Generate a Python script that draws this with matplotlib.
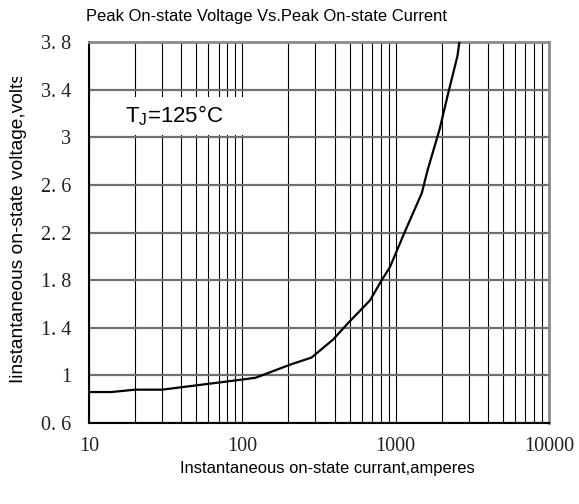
import matplotlib
matplotlib.use("Agg")
import matplotlib.pyplot as plt
from matplotlib.patches import Rectangle
from matplotlib.ticker import NullFormatter
from matplotlib.transforms import Bbox

# curve
current = [10, 14, 20, 30, 100, 122, 205, 283, 390, 490, 680, 811, 918,
           1151, 1480, 1620, 1928, 2230, 2527, 2650]
voltage = [0.86, 0.86, 0.88, 0.88, 0.965, 0.98, 1.09, 1.15, 1.30, 1.44, 1.63,
           1.80, 1.91, 2.21, 2.53, 2.73, 3.06, 3.40, 3.68, 3.87]

y_ticks = [0.6, 1.0, 1.4, 1.8, 2.2, 2.6, 3.0, 3.4, 3.8]
y_labels = ["0. 6", "1", "1. 4", "1. 8", "2. 2", "2. 6", "3", "3. 4", "3. 8"]
x_ticks = [10, 100, 1000, 10000]
x_labels = ["10", "100", "1000", "10000"]

SANS = ["Liberation Sans", "DejaVu Sans"]
SERIF = ["Liberation Serif", "DejaVu Serif"]

plt.rcParams["mathtext.fontset"] = "custom"
plt.rcParams["mathtext.rm"] = "Liberation Sans"
plt.rcParams["mathtext.default"] = "regular"

W, H = 579, 504
fig = plt.figure(figsize=(W / 100, H / 100), dpi=100)
ax = fig.add_axes([89 / W, 1 - 423 / H, 460 / W, 381 / H])

ax.plot(current, voltage, color="black", lw=1.6, zorder=3, solid_joinstyle="round")

ax.set_xscale("log")
ax.set_xlim(10, 10000)
ax.set_ylim(0.6, 3.8)

ax.set_xticks(x_ticks, x_labels)
ax.xaxis.set_minor_formatter(NullFormatter())
ax.set_yticks(y_ticks, y_labels)
ax.tick_params(which="both", length=0)
ax.tick_params(axis="x", pad=10)
ax.tick_params(axis="y", pad=13)
for lab in ax.get_xticklabels() + ax.get_yticklabels():
    lab.set_fontfamily(SERIF)
    lab.set_fontsize(14.5)
    lab.set_color("#222222")

ax.set_axisbelow(True)
ax.xaxis.grid(True, which="both", color="black", lw=0.8)
ax.yaxis.grid(True, which="major", color="#707070", lw=1.6)

for side in ("top", "right"):
    ax.spines[side].set_color("#8a8a8a")
    ax.spines[side].set_linewidth(2)
for side in ("left", "bottom"):
    ax.spines[side].set_color("black")
    ax.spines[side].set_linewidth(1.5)

# white label box for the junction temperature
ax.add_patch(Rectangle((0, 0.756), 0.35, 0.1, transform=ax.transAxes,
                       facecolor="white", edgecolor="none", zorder=2))
ax.text((174.5 - 89) / 460, (423 - 122) / 381, "$\\mathregular{T_J}$=125°C",
        transform=ax.transAxes, ha="center", va="baseline",
        fontfamily=SANS, fontsize=16, zorder=4)

fig.text(267 / W, 1 - 21 / H, "Peak On-state Voltage Vs.Peak On-state Current",
         ha="center", va="baseline", fontfamily=SANS, fontsize=11.9)
fig.text(327 / W, 1 - 473 / H, "Instantaneous on-state currant,amperes",
         ha="center", va="baseline", fontfamily=SANS, fontsize=11.9)
ylab = fig.text(18.5 / W, 1 - 228 / H, "Iinstantaneous on-state voltage,volts",
                ha="center", va="center", rotation=90, fontfamily=SANS, fontsize=13.8)
ylab.set_clip_on(True)
ylab.set_clip_box(Bbox([[0, 0], [W, H - 77]]))

fig.savefig("out.png", dpi=100)
